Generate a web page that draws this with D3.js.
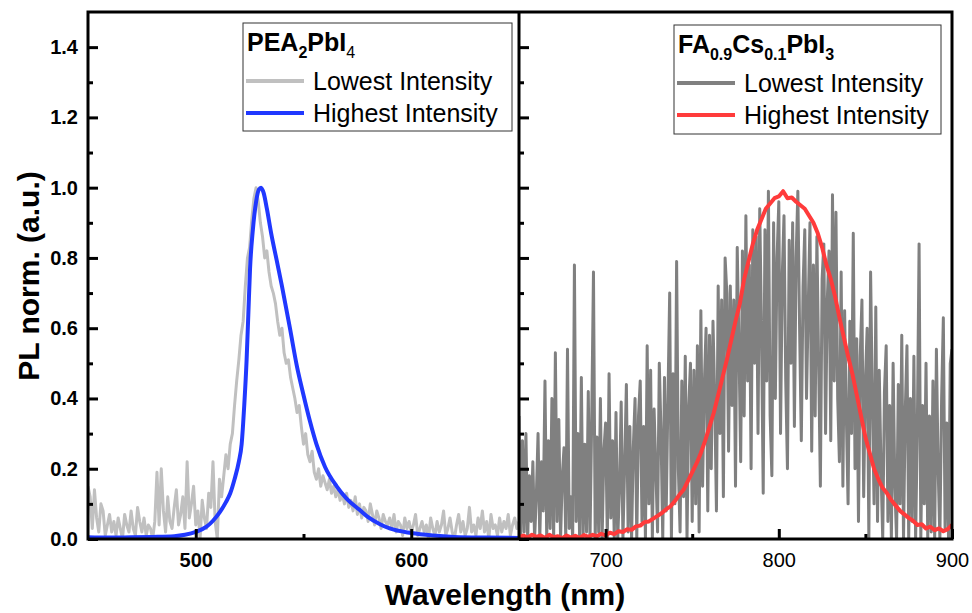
<!DOCTYPE html>
<html>
<head>
<meta charset="utf-8">
<script src="https://cdn.jsdelivr.net/npm/d3@7"></script>
<style>
  body { margin: 0; background: #fff; }
  text { font-family: "Liberation Sans", Arial, sans-serif; }
</style>
</head>
<body>
<svg id="chart" width="972" height="613"></svg>
<script>
// PEA2PbI4, lowest intensity (noisy), 450..650 nm, 1 nm step
const peaStart = 450, peaStep = 1;
const peaLow = [
  0.15,0.12,0.03,0.14,0.06,0.02,0.10,0.08,0.01,0.04,0.07,0.02,0.05,0.01,0.06,0.03,0.00,0.07,0.04,0.02,
  0.08,0.03,0.01,0.09,0.05,0.02,0.06,0.01,0.04,0.03,0.00,0.05,0.19,0.04,0.20,0.08,0.02,0.12,0.05,0.03,
  0.09,0.14,0.04,0.07,0.12,0.03,0.22,0.06,0.10,0.15,0.04,0.08,0.00,0.11,0.06,0.03,0.13,0.09,0.22,0.05,
  0.00,0.17,0.12,0.18,0.24,0.20,0.27,0.30,0.38,0.45,0.51,0.58,0.62,0.72,0.80,0.83,0.91,0.97,1.00,0.96,
  0.90,0.86,0.80,0.82,0.76,0.72,0.70,0.67,0.62,0.58,0.60,0.53,0.50,0.51,0.46,0.43,0.40,0.36,0.38,0.32,
  0.27,0.30,0.24,0.22,0.25,0.19,0.17,0.20,0.15,0.18,0.16,0.14,0.17,0.13,0.15,0.12,0.14,0.11,0.13,0.10,
  0.13,0.09,0.11,0.08,0.12,0.07,0.10,0.06,0.09,0.08,0.05,0.10,0.07,0.04,0.08,0.06,0.03,0.07,0.05,0.04,
  0.06,0.03,0.07,0.02,0.05,0.04,0.01,0.06,0.03,0.05,0.02,0.04,0.07,0.01,0.03,0.05,0.02,0.04,0.00,0.06,
  0.03,0.01,0.05,0.02,0.04,0.08,0.01,0.03,0.06,0.02,0.00,0.04,0.07,0.02,0.05,0.01,0.03,0.09,0.02,0.04,
  0.01,0.06,0.03,0.08,0.02,0.05,0.00,0.07,0.03,0.04,0.01,0.06,0.02,0.05,0.03,0.07,0.01,0.04,0.06,0.03,0.05
];

// PEA2PbI4, highest intensity (smooth), read at irregular wavelengths
const peaHighWl = [450,460,470,480,490,495,500,505,508,511,514,516,518,520,521.3,522.5,523.6,524.4,525.2,
  526.5,528,529.3,530.3,531.5,533,535,537.5,540,543.7,547,549.8,553,556,560,565.4,570,576,580,585.5,590,600,610,620,635,650];
const peaHigh = [0.005,0.004,0.005,0.006,0.008,0.012,0.02,0.035,0.052,0.075,0.105,0.13,0.17,0.22,0.27,0.38,0.51,0.64,0.77,
  0.88,0.96,0.995,1.0,0.985,0.94,0.87,0.795,0.72,0.60,0.49,0.415,0.335,0.27,0.205,0.15,0.115,0.083,0.062,0.042,0.03,0.017,0.01,0.006,0.004,0.003];

// FA0.9Cs0.1PbI3, lowest intensity (noisy), 650..900 nm, 1 nm step
const faStart = 650, faStep = 1;
const faLow = [
  0.35,0.00,0.28,0.02,0.30,0.00,0.18,0.05,0.22,0.00,
  0.12,0.30,0.00,0.22,0.08,0.45,0.00,0.28,0.03,0.40,
  0.00,0.53,0.05,0.34,0.00,0.18,0.26,0.00,0.54,0.03,
  0.12,0.00,0.78,0.05,0.30,0.00,0.46,0.00,0.27,0.02,
  0.42,0.00,0.35,0.76,0.00,0.29,0.02,0.40,0.00,0.25,
  0.33,0.00,0.47,0.06,0.28,0.00,0.36,0.00,0.14,0.39,
  0.00,0.21,0.44,0.02,0.32,0.00,0.26,0.40,0.00,0.35,
  0.45,0.05,0.32,0.00,0.55,0.10,0.48,0.00,0.37,0.20,
  0.02,0.50,0.30,0.00,0.46,0.08,0.40,0.70,0.00,0.47,
  0.10,0.79,0.20,0.02,0.45,0.12,0.52,0.00,0.38,0.50,
  0.05,0.48,0.10,0.55,0.02,0.65,0.15,0.44,0.60,0.08,
  0.58,0.20,0.62,0.40,0.08,0.72,0.30,0.68,0.12,0.80,
  0.70,0.25,0.72,0.38,0.68,0.15,0.83,0.55,0.22,0.82,
  0.35,0.92,0.45,0.78,0.20,0.88,0.50,0.86,0.30,0.94,
  0.60,0.13,0.88,0.45,0.99,0.35,0.18,0.90,0.40,0.80,
  0.96,0.30,0.75,0.92,0.45,0.20,0.85,0.50,0.90,0.32,
  0.80,0.99,0.60,0.28,0.72,0.88,0.40,0.66,0.90,0.25,
  0.78,0.35,0.86,0.50,0.15,0.74,0.84,0.30,0.68,0.82,
  0.28,0.98,0.45,0.93,0.40,0.22,0.76,0.15,0.65,0.35,
  0.10,0.62,0.30,0.87,0.20,0.57,0.05,0.52,0.68,0.12,
  0.45,0.60,0.00,0.76,0.40,0.10,0.66,0.05,0.48,0.20,
  0.00,0.42,0.55,0.05,0.38,0.00,0.50,0.15,0.00,0.44,
  0.10,0.58,0.00,0.36,0.55,0.00,0.40,0.05,0.52,0.00,
  0.32,0.84,0.00,0.38,0.10,0.50,0.00,0.35,0.02,0.45,
  0.00,0.54,0.20,0.00,0.40,0.63,0.03,0.33,0.00,0.50,
  0.54
];

// FA0.9Cs0.1PbI3, highest intensity, 650..900 nm, 2.5 nm step
const faHighStart = 650, faHighStep = 2.5;
const faHigh = [
  0.005,0.010,0.004,0.012,0.006,0.010,0.003,0.012,0.005,0.008,
  0.002,0.010,0.004,0.009,0.003,0.011,0.006,0.012,0.008,0.015,
  0.010,0.018,0.014,0.022,0.020,0.028,0.026,0.036,0.038,0.048,
  0.050,0.058,0.066,0.074,0.085,0.093,0.108,0.125,0.140,0.165,
  0.190,0.215,0.245,0.280,0.320,0.360,0.410,0.460,0.510,0.565,
  0.620,0.670,0.740,0.790,0.840,0.880,0.910,0.940,0.955,0.970,
  0.975,0.990,0.970,0.972,0.960,0.950,0.940,0.920,0.900,0.870,
  0.830,0.780,0.740,0.690,0.630,0.575,0.520,0.470,0.410,0.350,
  0.290,0.245,0.200,0.170,0.145,0.130,0.110,0.095,0.080,0.070,
  0.060,0.052,0.040,0.042,0.030,0.035,0.025,0.030,0.022,0.028,
  0.040
];

const yTicks = [0, 0.2, 0.4, 0.6, 0.8, 1.0, 1.2, 1.4];
const yMinor = [0.1, 0.3, 0.5, 0.7, 0.9, 1.1, 1.3];
const xTicksL = [500, 600];
const xMinorL = [550];
const xTicksR = [700, 800, 900];
const xMinorR = [750, 850];

const colLowL = "#c0c0c0", colHighL = "#2038ff";
const colLowR = "#808080", colHighR = "#ff3b3b";

const svg = d3.select("#chart");
const plotTop = 12, plotBottom = 539, plotLeft = 88, plotMid = 519, plotRight = 952;

const y = d3.scaleLinear().domain([0, 1.5]).range([plotBottom, plotTop]);
const xL = d3.scaleLinear().domain([450, 650]).range([plotLeft, plotMid]);
const xR = d3.scaleLinear().domain([650, 900]).range([plotMid, plotRight]);

const defs = svg.append("defs");
defs.append("clipPath").attr("id", "clipL").append("rect")
  .attr("x", plotLeft).attr("y", plotTop).attr("width", plotMid - plotLeft).attr("height", plotBottom - plotTop);
defs.append("clipPath").attr("id", "clipR").append("rect")
  .attr("x", plotMid).attr("y", plotTop).attr("width", plotRight - plotMid).attr("height", plotBottom - plotTop);

function drawSeries(clip, x, wl, vals, color, width) {
  const pts = vals.map((v, i) => [wl(i), v]);
  svg.append("path")
    .attr("clip-path", `url(#${clip})`)
    .attr("fill", "none")
    .attr("stroke", color)
    .attr("stroke-width", width)
    .attr("stroke-linejoin", "round")
    .attr("d", d3.line().x(d => x(d[0])).y(d => y(d[1]))(pts));
}

drawSeries("clipL", xL, i => peaStart + i * peaStep, peaLow, colLowL, 3);
svg.append("path")
  .attr("clip-path", "url(#clipL)")
  .attr("fill", "none")
  .attr("stroke", colHighL)
  .attr("stroke-width", 4)
  .attr("d", d3.line().curve(d3.curveMonotoneX).x((d, i) => xL(peaHighWl[i])).y(d => y(d))(peaHigh));

drawSeries("clipR", xR, i => faStart + i * faStep, faLow, colLowR, 3);
drawSeries("clipR", xR, i => faHighStart + i * faHighStep, faHigh, colHighR, 4);

// axes
function axis(gen, tx, ty, bold, showText) {
  const g = svg.append("g").attr("transform", `translate(${tx},${ty})`).call(gen);
  g.select(".domain").remove();
  g.selectAll(".tick line").attr("stroke", "#000").attr("stroke-width", 3);
  g.selectAll("text")
    .attr("fill", "#000")
    .style("font-size", "20px")
    .style("font-weight", bold ? "bold" : "normal")
    .style("font-family", "'Liberation Sans', Arial, sans-serif");
  if (!showText) g.selectAll("text").remove();
  return g;
}

axis(d3.axisLeft(y).tickValues(yTicks).tickFormat(d3.format(".1f")).tickSize(-10).tickPadding(10), plotLeft, 0, true, true);
axis(d3.axisLeft(y).tickValues(yMinor).tickSize(-5), plotLeft, 0, false, false);
axis(d3.axisLeft(y).tickValues(yTicks).tickSize(-10), plotMid, 0, false, false);
axis(d3.axisLeft(y).tickValues(yMinor).tickSize(-5), plotMid, 0, false, false);

axis(d3.axisBottom(xL).tickValues(xTicksL).tickFormat(d3.format("d")).tickSize(-10).tickPadding(14), 0, plotBottom, true, true);
axis(d3.axisBottom(xL).tickValues(xMinorL).tickSize(-5), 0, plotBottom, false, false);
axis(d3.axisBottom(xR).tickValues(xTicksR).tickFormat(d3.format("d")).tickSize(-10).tickPadding(14), 0, plotBottom, false, true);
axis(d3.axisBottom(xR).tickValues(xMinorR).tickSize(-5), 0, plotBottom, false, false);

// frame
svg.append("rect")
  .attr("x", plotLeft).attr("y", plotTop).attr("width", plotRight - plotLeft).attr("height", plotBottom - plotTop)
  .attr("fill", "none").attr("stroke", "#000").attr("stroke-width", 3);
svg.append("line")
  .attr("x1", plotMid).attr("x2", plotMid).attr("y1", plotTop).attr("y2", plotBottom)
  .attr("stroke", "#000").attr("stroke-width", 3);

// axis titles
svg.append("text")
  .attr("x", 505).attr("y", 605)
  .attr("text-anchor", "middle")
  .style("font-size", "30px").style("font-weight", "bold")
  .text("Wavelength (nm)");
svg.append("text")
  .attr("transform", "translate(39,276) rotate(-90)")
  .attr("text-anchor", "middle")
  .style("font-size", "30px").style("font-weight", "bold")
  .text("PL norm. (a.u.)");

// legends
function legend(bx, by, bw, bh, titleParts, items) {
  const g = svg.append("g");
  g.append("rect").attr("x", bx).attr("y", by).attr("width", bw).attr("height", bh)
    .attr("fill", "#fff").attr("stroke", "#333").attr("stroke-width", 1);
  const t = g.append("text").attr("x", bx + 4).attr("y", by + 28)
    .style("font-size", "25px").style("font-weight", "bold");
  titleParts.forEach(p => {
    const s = t.append("tspan").text(p.t);
    if (p.sub) {
      s.attr("dy", 7).style("font-size", "16px").style("font-weight", p.bold === false ? "normal" : "bold");
    } else if (p.after) {
      s.attr("dy", -7);
    }
  });
  items.forEach((it, i) => {
    const ly = by + 58 + i * 32;
    g.append("line").attr("x1", bx + 3).attr("x2", bx + 61).attr("y1", ly).attr("y2", ly)
      .attr("stroke", it.color).attr("stroke-width", it.w);
    g.append("text").attr("x", bx + 70).attr("y", ly + 9)
      .style("font-size", "25px").text(it.label);
  });
}

legend(243, 23, 269, 108,
  [{t: "PEA"}, {t: "2", sub: true}, {t: "PbI", after: true}, {t: "4", sub: true, bold: false}],
  [{label: "Lowest Intensity", color: colLowL, w: 4}, {label: "Highest Intensity", color: colHighL, w: 4}]);

legend(674, 25, 267, 109,
  [{t: "FA"}, {t: "0.9", sub: true}, {t: "Cs", after: true}, {t: "0.1", sub: true}, {t: "PbI", after: true}, {t: "3", sub: true}],
  [{label: "Lowest Intensity", color: colLowR, w: 4}, {label: "Highest Intensity", color: colHighR, w: 4}]);
</script>
</body>
</html>
